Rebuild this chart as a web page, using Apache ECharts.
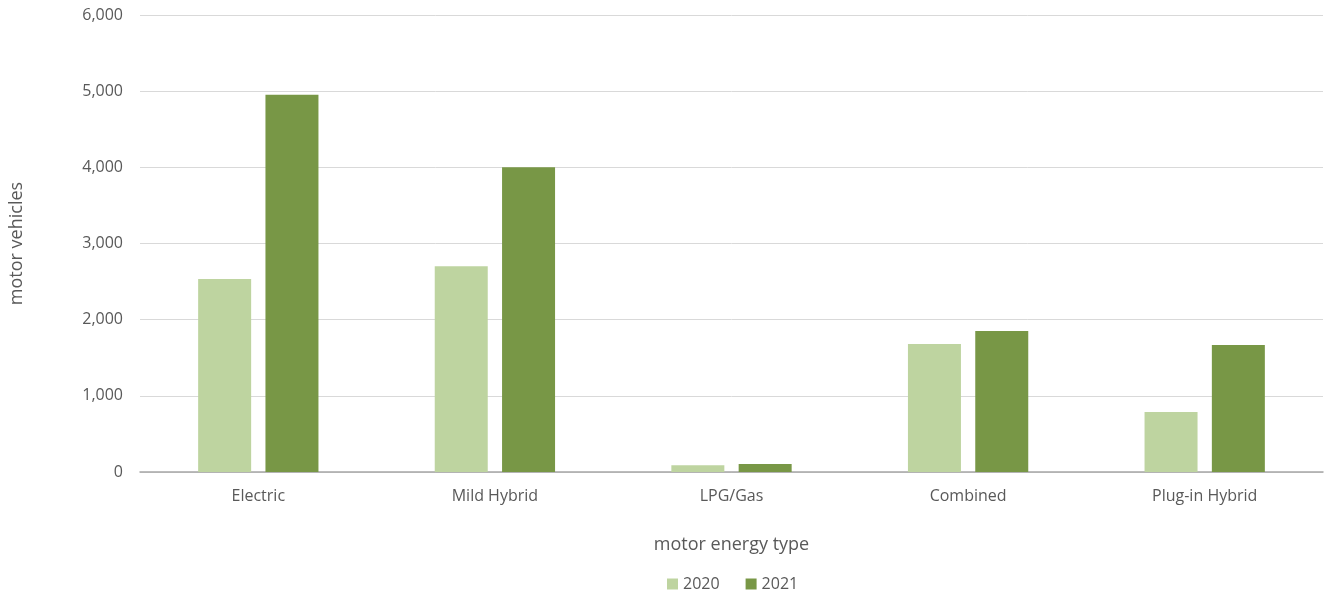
<!DOCTYPE html>
<html>
<head>
<meta charset="utf-8">
<script src="https://cdn.jsdelivr.net/npm/echarts@6/dist/echarts.min.js"></script>
<style>html,body{margin:0;padding:0;background:#fff;}#c{width:1327px;height:595px;}</style>
</head>
<body>
<div id="c"></div>
<script>
const categories = ['Electric', 'Mild Hybrid', 'LPG/Gas', 'Combined', 'Plug-in Hybrid'];
const values2020 = [2534, 2700, 90, 1680, 788];
const values2021 = [4953, 4000, 105, 1851, 1667];
const seriesNames = ['2020', '2021'];

const chart = echarts.init(document.getElementById('c'));
const font = 'Open Sans, sans-serif';
chart.setOption({
  animation: false,
  textStyle: { fontFamily: font },
  grid: { left: 138, right: 4, top: 15, bottom: 123 },
  legend: {
    data: seriesNames,
    top: 571, left: 662,
    itemWidth: 11, itemHeight: 11, itemGap: 26,
    icon: 'rect',
    textStyle: { fontSize: 16, color: '#595959', fontFamily: font }
  },
  xAxis: {
    type: 'category',
    data: categories,
    name: 'motor energy type',
    nameLocation: 'middle',
    nameGap: 64,
    nameTextStyle: { fontSize: 18, color: '#595959' },
    axisLine: { lineStyle: { color: '#a6a6a6', width: 1.5 } },
    axisTick: { show: false },
    axisLabel: { fontSize: 16, color: '#595959', margin: 16 }
  },
  yAxis: {
    type: 'value',
    min: 0, max: 6000, interval: 1000,
    name: 'motor vehicles',
    nameLocation: 'middle',
    nameGap: 114,
    nameTextStyle: { fontSize: 18, color: '#595959' },
    axisLine: { show: false },
    axisTick: { show: false },
    axisLabel: {
      fontSize: 16, color: '#595959', margin: 17,
      formatter: v => v.toLocaleString('en-US')
    },
    splitLine: { lineStyle: { color: '#d9d9d9', width: 1 } }
  },
  series: [
    { name: seriesNames[0], type: 'bar', data: values2020, barWidth: 53, barGap: '27%',
      itemStyle: { color: '#bed4a0' } },
    { name: seriesNames[1], type: 'bar', data: values2021, barWidth: 53, barGap: '27%',
      itemStyle: { color: '#789746' } }
  ]
});
</script>
</body>
</html>
